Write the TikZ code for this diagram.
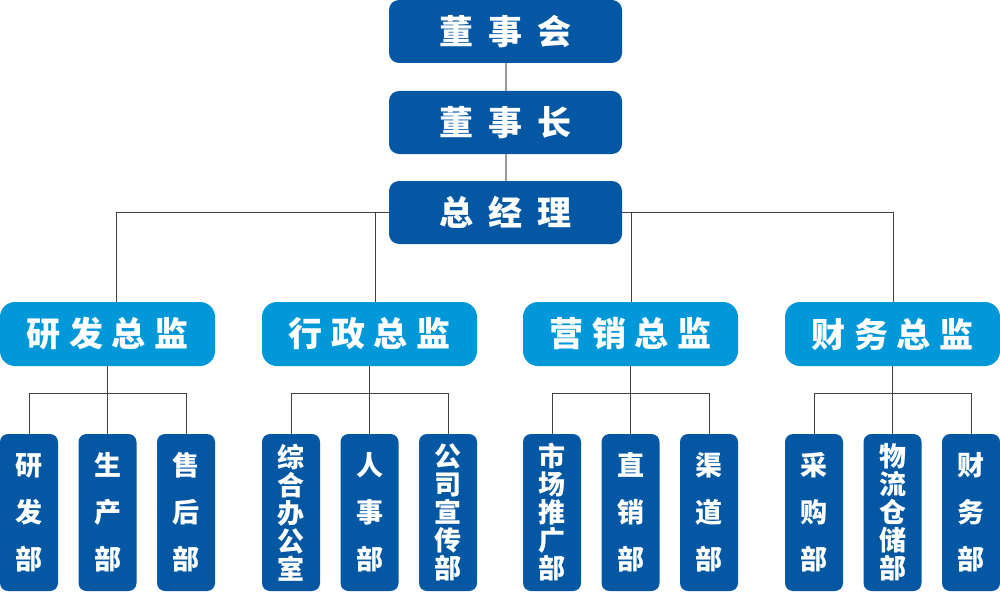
\documentclass[tikz,border=0pt]{standalone}
\usepackage{fontspec}
\newfontfamily\cjk{Noto Sans CJK SC}
\definecolor{DarkBlue}{RGB}{4,88,163}
\definecolor{LightBlue}{RGB}{0,152,216}

\begin{document}
\begin{tikzpicture}[x=1pt,y=-1pt]
                \tikzset{BoxStyle/.style={inner sep=0pt, text=white}}
                \tikzset{BossStyle/.style={BoxStyle, fill=DarkBlue, rounded corners=10pt, minimum width=233pt, minimum height=63pt, font=\cjk\bfseries\fontsize{34pt}{34pt}\selectfont}}
                \tikzset{ChiefStyle/.style={BoxStyle, fill=LightBlue, rounded corners=15pt, minimum width=215pt, minimum height=64pt, font=\cjk\bfseries\fontsize{34pt}{34pt}\selectfont}}
                \tikzset{DeptStyle/.style={BoxStyle, fill=DarkBlue, rounded corners=8pt, minimum width=58pt, minimum height=157pt, align=center, font=\cjk\bfseries\fontsize{27pt}{47pt}\selectfont}}
                \tikzset{DeptLong/.style={DeptStyle, font=\cjk\bfseries\fontsize{27pt}{28pt}\selectfont}}
                \tikzset{TopLink/.style={draw=black!40, line width=2pt}}
                \tikzset{LinkStyle/.style={draw=black!75, line width=1pt}}
                \useasboundingbox (0,0) rectangle (1000,591);
                \node[BossStyle] (B1) at (505.5,31.5) {董\hspace{15pt}事\hspace{15pt}会};
                \node[BossStyle] (B2) at (505.5,122.5) {董\hspace{15pt}事\hspace{15pt}长};
                \node[BossStyle] (B3) at (505.5,212.5) {总\hspace{15pt}经\hspace{15pt}理};
                \node[ChiefStyle] (G1) at (107.5,334) {研\hspace{.25em}发\hspace{.25em}总\hspace{.25em}监};
                \node[ChiefStyle] (G2) at (369.5,334) {行\hspace{.25em}政\hspace{.25em}总\hspace{.25em}监};
                \node[ChiefStyle] (G3) at (630.5,334) {营\hspace{.25em}销\hspace{.25em}总\hspace{.25em}监};
                \node[ChiefStyle] (G4) at (892.5,334) {财\hspace{.25em}务\hspace{.25em}总\hspace{.25em}监};
                \node[DeptStyle] (D11) at (29,512.5) {研\\发\\部};
                \node[DeptStyle] (D12) at (107.5,512.5) {生\\产\\部};
                \node[DeptStyle] (D13) at (186,512.5) {售\\后\\部};
                \node[DeptLong] (D21) at (291,512.5) {综\\合\\办\\公\\室};
                \node[DeptStyle] (D22) at (369.5,512.5) {人\\事\\部};
                \node[DeptLong] (D23) at (448,512.5) {公\\司\\宣\\传\\部};
                \node[DeptLong] (D31) at (552,512.5) {市\\场\\推\\广\\部};
                \node[DeptStyle] (D32) at (630.5,512.5) {直\\销\\部};
                \node[DeptStyle] (D33) at (709,512.5) {渠\\道\\部};
                \node[DeptStyle] (D41) at (814,512.5) {采\\购\\部};
                \node[DeptLong] (D42) at (892.5,512.5) {物\\流\\仓\\储\\部};
                \node[DeptStyle] (D43) at (971,512.5) {财\\务\\部};
                \draw[TopLink] (B1) -- (B2);
                \draw[TopLink] (B2) -- (B3);
                \draw[LinkStyle] (B3.west) -| ([xshift=8.5pt]G1.north);
                \draw[LinkStyle] ([xshift=5.5pt]G2.north) |- (B3.west);
                \draw[LinkStyle] (B3.east) -| ([xshift=0.5pt]G3.north);
                \draw[LinkStyle] (B3.east) -| ([xshift=0.5pt]G4.north);
                \draw[LinkStyle] (G1) -- (D12);
                \draw[LinkStyle] (D11.north) -- ++(0,-40) -| (D13.north);
                \draw[LinkStyle] (G2) -- (D22);
                \draw[LinkStyle] (D21.north) -- ++(0,-40) -| (D23.north);
                \draw[LinkStyle] (G3) -- (D32);
                \draw[LinkStyle] (D31.north) -- ++(0,-40) -| (D33.north);
                \draw[LinkStyle] (G4) -- (D42);
                \draw[LinkStyle] (D41.north) -- ++(0,-40) -| (D43.north);
            \end{tikzpicture}
\end{document}
